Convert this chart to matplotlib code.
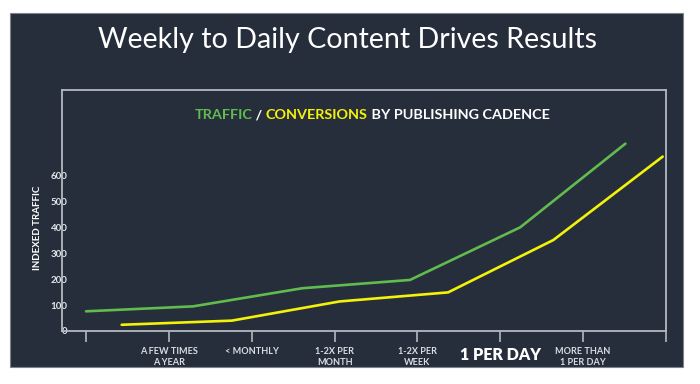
import matplotlib
matplotlib.use("Agg")
import matplotlib.pyplot as plt
import matplotlib.transforms as mtransforms
from matplotlib.patches import Rectangle

# ---- data ----
categories = ["", "A FEW TIMES\nA YEAR", "< MONTHLY", "1-2X PER\nMONTH", "1-2X PER\nWEEK",
              "1 PER DAY", "MORE THAN\n1 PER DAY", ""]
highlight = "1 PER DAY"
traffic_x = [0.0, 1.29, 2.61, 3.91, 5.24, 6.51]
traffic_y = [76, 95, 165, 197, 400, 723]
conv_x = [0.43, 1.76, 3.06, 4.37, 5.64, 6.96]
conv_y = [24, 40, 114, 149, 351, 673]
yticks = [0, 100, 200, 300, 400, 500, 600]

BG = "#262e3b"
GREEN = "#62bb4e"
YELLOW = "#f2f20a"
SPINE = "#b4b8c0"
FONT = ["Lato", "DejaVu Sans"]

W, H = 700, 384
fig = plt.figure(figsize=(W / 100, H / 100), dpi=100)
fig.patch.set_facecolor("white")
fig.patches.append(Rectangle((10 / W, 1 - 367 / H), 673 / W, 354 / H, transform=fig.transFigure,
                             facecolor=BG, edgecolor="#7d838c", lw=0.8, zorder=-5))

fig.text(348 / W, 1 - 40 / H, "Weekly to Daily Content Drives Results", color="white",
         fontsize=20.6, family=FONT, ha="center", va="center")

ax = fig.add_axes([62 / W, 1 - 331 / H, (666 - 62) / W, (331 - 90) / H])
ax.set_zorder(2)
ax.set_facecolor(BG)
ax.plot(traffic_x, traffic_y, color=GREEN, lw=1.9, solid_capstyle="round", solid_joinstyle="round")
ax.plot(conv_x, conv_y, color=YELLOW, lw=1.9, solid_capstyle="round", solid_joinstyle="round")
ax.set_xlim(-0.29, 7.0)
ax.set_ylim(0, 930)

for s in ax.spines.values():
    s.set_color(SPINE)
    s.set_linewidth(1.3)

ax.set_yticks(yticks)
ax.set_yticklabels([str(v) for v in yticks], family=FONT, fontsize=7, color="#e4e7eb", fontweight="bold")
ax.tick_params(axis="y", length=0, pad=-4)

ax.set_xticks(range(len(categories)))
ax.set_xticklabels([c if c != highlight else "" for c in categories], family=FONT, fontsize=6.6,
                   color="#d9dde3", fontweight="bold", linespacing=1.3)
ax.tick_params(axis="x", length=8, width=1.2, color=SPINE, pad=3.5)

# highlighted category label
hx = categories.index(highlight)
trans = mtransforms.blended_transform_factory(ax.transData, fig.transFigure)
ax.text(hx, 1 - 355 / H, highlight, transform=trans, family=FONT, fontsize=11.5, color="white",
        fontweight="heavy", ha="center", va="center", clip_on=False)

fig.text(37 / W, 1 - 228 / H, "INDEXED TRAFFIC", rotation=90, color="white", fontsize=7,
         family=FONT, fontweight="bold", ha="center", va="center")

# multi-coloured subtitle
parts = [("TRAFFIC", GREEN), (" / ", "white"), ("CONVERSIONS", YELLOW), (" BY PUBLISHING CADENCE", "white")]
renderer = fig.canvas.get_renderer()
texts = []
widths = []
for t, c in parts:
    tx = fig.text(0, 1 - 115 / H, t, color=c, fontsize=10.4, family=FONT, fontweight="bold",
                  ha="left", va="center")
    texts.append(tx)
    widths.append(tx.get_window_extent(renderer).width)
total = sum(widths)
x = 372 - total / 2
for tx, w in zip(texts, widths):
    tx.set_x(x / W)
    x += w

fig.savefig("out.png", dpi=100, facecolor=fig.get_facecolor())
